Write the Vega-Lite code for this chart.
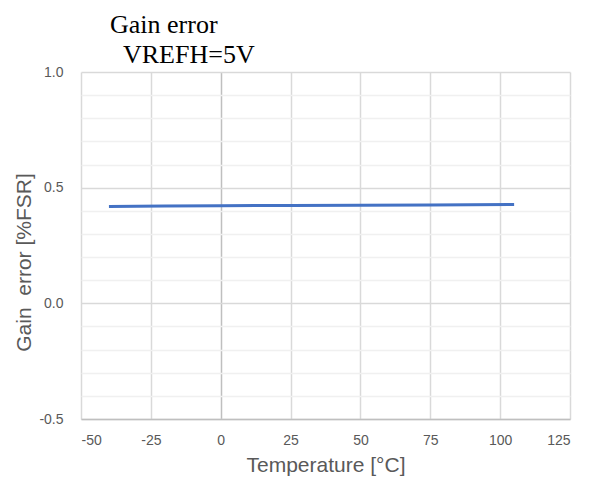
{
  "$schema": "https://vega.github.io/schema/vega-lite/v6.json",
  "width": 489,
  "height": 347,
  "autosize": "none",
  "padding": {"left": 81, "top": 72, "right": 24, "bottom": 59},
  "background": "white",
  "title": {
    "text": ["Gain error", "\u200B\u00a0\u00a0VREFH=5V"],
    "anchor": "start",
    "frame": "group",
    "dx": 29,
    "dy": 4,
    "offset": 1,
    "font": "Liberation Serif",
    "fontSize": 26,
    "fontWeight": "normal",
    "color": "#000000",
    "lineHeight": 30
  },
  "data": {
    "values": [
      {"t": -40, "g": 0.419},
      {"t": -20, "g": 0.421},
      {"t": 0, "g": 0.422},
      {"t": 25, "g": 0.423},
      {"t": 50, "g": 0.424},
      {"t": 75, "g": 0.425},
      {"t": 105, "g": 0.427}
    ]
  },
  "mark": {"type": "line", "color": "#4472C4", "strokeWidth": 3, "strokeCap": "butt"},
  "encoding": {
    "x": {
      "field": "t",
      "type": "quantitative",
      "scale": {"domain": [-50, 125], "nice": false, "zero": false},
      "axis": {
        "values": [-50, -25, 0, 25, 50, 75, 100, 125],
        "labelExpr": "'' + datum.value",
        "title": "Temperature [°C]",
        "titleFont": "Liberation Sans",
        "titleFontSize": 21,
        "titleFontWeight": "normal",
        "titleColor": "#595959",
        "titlePadding": 7,
        "labelFont": "Liberation Sans",
        "labelFontSize": 14,
        "labelColor": "#595959",
        "labelPadding": 14,
        "ticks": false,
        "domainColor": "#bfbfbf",
        "domainWidth": 1.5,
        "grid": true,
        "gridColor": {"condition": {"test": "datum.value === 0", "value": "#bfbfbf"}, "value": "#d9d9d9"},
        "gridWidth": 1.5
      }
    },
    "y": {
      "field": "g",
      "type": "quantitative",
      "scale": {"domain": [-0.5, 1.0], "nice": false, "zero": false},
      "axis": {
        "values": [-0.5, -0.4, -0.3, -0.2, -0.1, 0, 0.1, 0.2, 0.3, 0.4, 0.5, 0.6, 0.7, 0.8, 0.9, 1.0],
        "labelExpr": "abs(datum.value * 2 - round(datum.value * 2)) < 0.000001 ? replace(format(datum.value, '.1f'), '\u2212', '-') : ''",
        "title": "Gain\u00a0 error [%FSR]",
        "titleFont": "Liberation Sans",
        "titleFontSize": 21,
        "titleFontWeight": "normal",
        "titleColor": "#595959",
        "titleX": -57,
        "titleY": 190,
        "titleBaseline": "middle",
        "labelFont": "Liberation Sans",
        "labelFontSize": 14,
        "labelColor": "#595959",
        "labelPadding": 18,
        "ticks": false,
        "domain": false,
        "grid": true,
        "gridColor": {"condition": {"test": "abs(datum.value * 2 - round(datum.value * 2)) < 0.000001", "value": "#d9d9d9"}, "value": "#f0f0f0"},
        "gridWidth": 1.5
      }
    }
  },
  "config": {"view": {"stroke": null}}
}
